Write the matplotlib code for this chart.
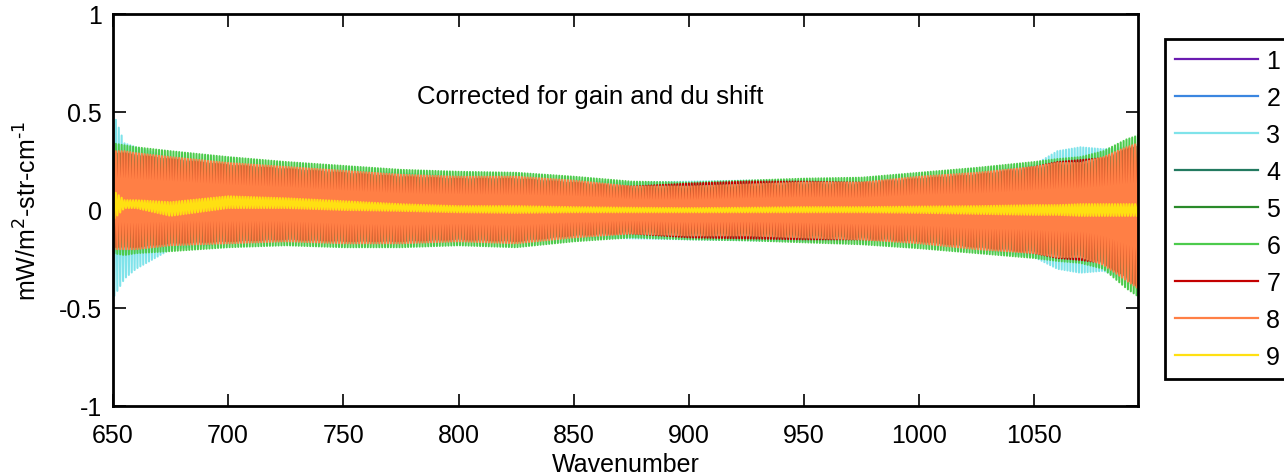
import numpy as np
import matplotlib
matplotlib.use('Agg')
import matplotlib.pyplot as plt

plt.rcParams['font.family'] = ['Liberation Sans', 'DejaVu Sans']
plt.rcParams['axes.unicode_minus'] = False

# channel grid (LW band, 0.625 cm-1 spacing)
wn = np.arange(650, 1095.001, 0.625)

# envelope readings (upper / lower) at anchor wavenumbers
xa = [650, 655, 660, 675, 700, 725, 750, 775, 800, 825, 850, 875, 900, 925, 950, 975, 1000, 1025, 1050, 1060, 1070, 1080, 1090, 1095]

up8 = [0.30, 0.30, 0.29, 0.27, 0.24, 0.22, 0.20, 0.18, 0.17, 0.17, 0.15, 0.12, 0.12, 0.13, 0.14, 0.14, 0.17, 0.19, 0.22, 0.24, 0.24, 0.27, 0.32, 0.34]
lo8 = [-0.20, -0.20, -0.20, -0.18, -0.17, -0.16, -0.17, -0.17, -0.16, -0.17, -0.14, -0.12, -0.13, -0.13, -0.14, -0.15, -0.17, -0.20, -0.22, -0.24, -0.24, -0.28, -0.36, -0.40]

up6 = [0.34, 0.33, 0.32, 0.30, 0.27, 0.245, 0.225, 0.205, 0.195, 0.19, 0.17, 0.145, 0.14, 0.15, 0.16, 0.165, 0.19, 0.215, 0.245, 0.26, 0.27, 0.30, 0.36, 0.38]
lo6 = [-0.22, -0.23, -0.22, -0.21, -0.19, -0.18, -0.19, -0.19, -0.18, -0.19, -0.16, -0.14, -0.15, -0.155, -0.165, -0.175, -0.195, -0.22, -0.245, -0.26, -0.27, -0.30, -0.40, -0.44]

up3 = [0.50, 0.34, 0.32, 0.27, 0.23, 0.21, 0.20, 0.19, 0.17, 0.16, 0.15, 0.14, 0.145, 0.15, 0.15, 0.14, 0.17, 0.19, 0.23, 0.30, 0.32, 0.31, 0.32, 0.33]
lo3 = [-0.45, -0.35, -0.30, -0.20, -0.17, -0.16, -0.17, -0.17, -0.16, -0.16, -0.14, -0.145, -0.15, -0.155, -0.16, -0.15, -0.17, -0.20, -0.24, -0.30, -0.32, -0.31, -0.36, -0.40]

up7 = [0.29, 0.29, 0.28, 0.26, 0.23, 0.21, 0.19, 0.17, 0.16, 0.16, 0.14, 0.12, 0.135, 0.145, 0.145, 0.14, 0.16, 0.18, 0.22, 0.245, 0.255, 0.265, 0.31, 0.33]
lo7 = [-0.19, -0.19, -0.19, -0.17, -0.16, -0.15, -0.16, -0.16, -0.15, -0.16, -0.13, -0.12, -0.14, -0.145, -0.15, -0.15, -0.16, -0.19, -0.22, -0.245, -0.255, -0.27, -0.35, -0.39]

up1 = [0.28, 0.28, 0.27, 0.25, 0.22, 0.20, 0.18, 0.16, 0.15, 0.15, 0.13, 0.11, 0.11, 0.12, 0.13, 0.13, 0.16, 0.18, 0.21, 0.23, 0.23, 0.26, 0.31, 0.33]
lo1 = [-0.21, -0.21, -0.20, -0.18, -0.16, -0.15, -0.16, -0.16, -0.15, -0.16, -0.13, -0.11, -0.12, -0.12, -0.13, -0.14, -0.16, -0.19, -0.21, -0.23, -0.23, -0.27, -0.35, -0.39]

up9 = [0.10, 0.05, 0.05, 0.04, 0.07, 0.06, 0.045, 0.03, 0.02, 0.02, 0.015, 0.012, 0.01, 0.012, 0.015, 0.015, 0.018, 0.02, 0.025, 0.025, 0.03, 0.03, 0.03, 0.03]
lo9 = [-0.05, 0.01, 0.01, -0.03, 0.01, 0.01, 0.0, -0.005, -0.012, -0.015, -0.012, -0.012, -0.012, -0.012, -0.012, -0.012, -0.015, -0.02, -0.025, -0.025, -0.03, -0.03, -0.03, -0.03]

# series 2, 4, 5 sit just inside series 8
up_in = [u - 0.01 for u in up8]
lo_in = [l + 0.01 for l in lo8]

envs = [(up1, lo1), (up_in, lo_in), (up3, lo3), (up_in, lo_in), (up_in, lo_in),
        (up6, lo6), (up7, lo7), (up8, lo8), (up9, lo9)]
colors = ['#6a1bb0', '#3b86e0', '#7fe3ea', '#237a60', '#2a8a2a',
          '#4ccb4c', '#c40000', '#ff7f45', '#ffe012']
labels = ['1', '2', '3', '4', '5', '6', '7', '8', '9']

fig = plt.figure(figsize=(12.84, 4.77), dpi=100)
ax = fig.add_axes([113/1284, 70/477, 1025/1284, 392/477])

sign = np.where(np.arange(len(wn)) % 2 == 0, 1, 0)
for (u, l), c, lab in zip(envs, colors, labels):
    uu = np.interp(wn, xa, u)
    ll = np.interp(wn, xa, l)
    y = np.where(sign == 1, uu, ll)
    ax.plot(wn, y, color=c, lw=1.5, label=lab)

ax.set_xlim(650, 1095)
ax.set_ylim(-1, 1)
ax.set_xticks([650, 700, 750, 800, 850, 900, 950, 1000, 1050])
ax.set_yticks([-1, -0.5, 0, 0.5, 1])
ax.set_yticklabels(['-1', '-0.5', '0', '0.5', '1'])
ax.tick_params(direction='in', length=9, width=1.2, top=True, right=True, labelsize=18)
ax.tick_params(axis='x', pad=12)
ax.tick_params(axis='y', pad=8)
for s in ax.spines.values():
    s.set_linewidth(2)

ax.set_xlabel('Wavenumber', fontsize=18, labelpad=4)
ax.set_ylabel(r'mW/m$^2$-str-cm$^{\text{-}1}$', fontsize=18, labelpad=12)
ax.text(857, 0.58, 'Corrected for gain and du shift', fontsize=18.5, ha='center', va='center')

leg = fig.legend(loc='upper left', bbox_to_anchor=(1165/1284, 1 - 40/477), borderaxespad=0,
                 fontsize=18, handlelength=3.3, handletextpad=0.35, labelspacing=0.52,
                 borderpad=0.4, fancybox=False, framealpha=1, edgecolor='black')
leg.get_frame().set_linewidth(2)
for h in leg.get_lines():
    h.set_linewidth(1.6)

fig.savefig('out.png', dpi=100)
